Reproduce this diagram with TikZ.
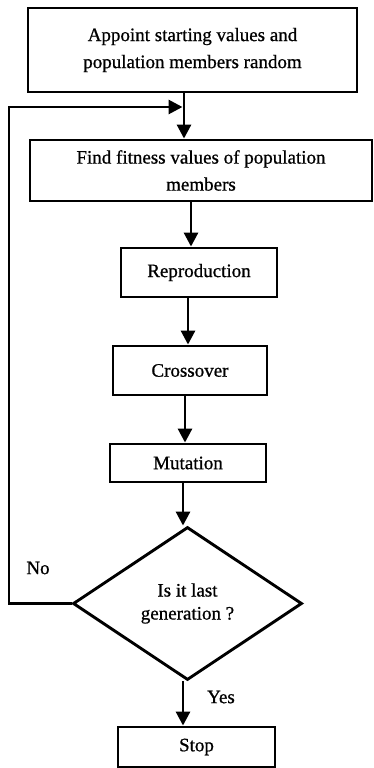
\documentclass[tikz,border=0pt]{standalone}
\usepackage{fontspec}
\setmainfont{Liberation Serif}[FakeBold=0.8]
\usetikzlibrary{arrows.meta,shapes.geometric}
\begin{document}
\begin{tikzpicture}[x=1pt,y=-1pt,
  box/.style={draw,line width=2.9pt,inner sep=0pt,align=center,font=\fontsize{19}{27}\selectfont},
  lbl/.style={inner sep=0pt,font=\fontsize{19}{23}\selectfont},
  arr/.style={line width=2.9pt,-{Triangle[length=14pt,width=14pt]}}]
\useasboundingbox (0,0) rectangle (373,768);
\node[box,minimum width=329pt,minimum height=84pt] (init) at (192.5,50) {Appoint starting values and\\population members random};
\node[box,minimum width=342pt,minimum height=61pt] (fit) at (201,170.5) {Find fitness values of population\\members};
\node[box,minimum width=156pt,minimum height=49pt] (rep) at (199,272.5) {Reproduction};
\node[box,minimum width=154pt,minimum height=49pt] (cross) at (190,370.5) {Crossover};
\node[box,minimum width=156pt,minimum height=38pt] (mut) at (188,463) {Mutation};
\node[box,shape=diamond,aspect=1.5,minimum width=229pt,minimum height=153pt,font=\fontsize{19}{23}\selectfont] (dec) at (187.5,603.5) {Is it last\\generation ?};
\node[box,minimum width=157pt,minimum height=40pt] (stop) at (196.5,747) {Stop};
\node[lbl] (no) at (38,568) {No};
\node[lbl] (yes) at (221,697) {Yes};
\coordinate (c1) at (184,0);
\coordinate (c2) at (191,0);
\coordinate (c3) at (188,0);
\coordinate (c4) at (185,0);
\coordinate (c5) at (183,0);
\coordinate (j) at (184,107);
\coordinate (lx) at (9,0);
\draw[arr] (init.south -| c1) -- (fit.north -| c1);
\draw[arr] (fit.south -| c2) -- (rep.north -| c2);
\draw[arr] (rep.south -| c3) -- (cross.north -| c3);
\draw[arr] (cross.south -| c4) -- (mut.north -| c4);
\draw[arr] (mut.south -| c5) -- (dec.north -| c5);
\draw[arr] (dec.south -| c5) -- (stop.north -| c5);
\draw[arr] (dec.west) -- (dec.west -| lx) -- (j -| lx) -- ([xshift=-1.5pt]j);
\end{tikzpicture}
\end{document}
